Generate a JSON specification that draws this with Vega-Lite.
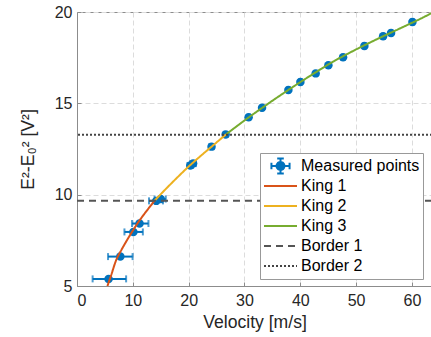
{
  "$schema": "https://vega.github.io/schema/vega-lite/v6.json",
  "width": 355,
  "height": 274,
  "autosize": {"type": "none"},
  "padding": {"left": 77, "top": 12, "right": 0, "bottom": 51},
  "background": "white",
  "config": {
    "font": "Liberation Sans",
    "view": {"stroke": "#8c8c8c", "strokeWidth": 1},
    "axis": {
      "grid": true,
      "gridColor": "#dcdcdc",
      "gridDash": [5, 3],
      "domainColor": "#8c8c8c",
      "tickColor": "#8c8c8c",
      "tickSize": -4,
      "labelFontSize": 16,
      "labelColor": "#262626",
      "titleFontSize": 17.6,
      "titleFontWeight": "normal",
      "titleColor": "#262626",
      "labelFont": "Liberation Sans",
      "titleFont": "Liberation Sans"
    },
    "legend": {
      "orient": "none",
      "legendX": 183,
      "legendY": 141,
      "padding": 3,
      "strokeColor": "#999999",
      "fillColor": "white",
      "symbolType": "stroke",
      "symbolSize": 1089,
      "symbolStrokeWidth": 2,
      "labelFontSize": 16,
      "labelColor": "#000000",
      "labelFont": "Liberation Sans",
      "labelOffset": 3,
      "clipHeight": 20,
      "rowPadding": 0,
      "labelLimit": 300
    }
  },
  "datasets": {
    "points": [
      {"series": "Measured points", "v": 5.66, "e": 5.39, "vlo": 2.8, "vhi": 8.8},
      {"series": "Measured points", "v": 7.76, "e": 6.61, "vlo": 5.56, "vhi": 9.96},
      {"series": "Measured points", "v": 10.1, "e": 7.96, "vlo": 8.5, "vhi": 11.8},
      {"series": "Measured points", "v": 11.2, "e": 8.42, "vlo": 9.86, "vhi": 12.8},
      {"series": "Measured points", "v": 14.2, "e": 9.66, "vlo": 12.9, "vhi": 15.4},
      {"series": "Measured points", "v": 15.0, "e": 9.76, "vlo": 13.9, "vhi": 15.9},
      {"series": "Measured points", "v": 20.3, "e": 11.6, "vlo": 19.8, "vhi": 20.8},
      {"series": "Measured points", "v": 20.8, "e": 11.7, "vlo": 20.3, "vhi": 21.3},
      {"series": "Measured points", "v": 24.1, "e": 12.63, "vlo": 23.7, "vhi": 24.5},
      {"series": "Measured points", "v": 26.63, "e": 13.3, "vlo": 26.3, "vhi": 27.0},
      {"series": "Measured points", "v": 30.75, "e": 14.24, "vlo": 30.5, "vhi": 31.0},
      {"series": "Measured points", "v": 33.15, "e": 14.76, "vlo": 32.9, "vhi": 33.4},
      {"series": "Measured points", "v": 37.87, "e": 15.73, "vlo": 37.6, "vhi": 38.1},
      {"series": "Measured points", "v": 40.02, "e": 16.17, "vlo": 39.8, "vhi": 40.3},
      {"series": "Measured points", "v": 42.76, "e": 16.64, "vlo": 42.5, "vhi": 43.0},
      {"series": "Measured points", "v": 45.04, "e": 17.08, "vlo": 44.8, "vhi": 45.3},
      {"series": "Measured points", "v": 47.67, "e": 17.52, "vlo": 47.4, "vhi": 47.9},
      {"series": "Measured points", "v": 51.49, "e": 18.14, "vlo": 51.2, "vhi": 51.8},
      {"series": "Measured points", "v": 54.84, "e": 18.67, "vlo": 54.6, "vhi": 55.1},
      {"series": "Measured points", "v": 56.27, "e": 18.85, "vlo": 56.0, "vhi": 56.5},
      {"series": "Measured points", "v": 60.09, "e": 19.45, "vlo": 59.8, "vhi": 60.4}
    ],
    "curves": [
      {"series": "King 1", "v": 5.45, "e": 5.0},
      {"series": "King 1", "v": 6.0, "e": 5.48},
      {"series": "King 1", "v": 7.0, "e": 6.4},
      {"series": "King 1", "v": 8.0, "e": 7.0},
      {"series": "King 1", "v": 9.0, "e": 7.53},
      {"series": "King 1", "v": 10.0, "e": 8.03},
      {"series": "King 1", "v": 11.0, "e": 8.5},
      {"series": "King 1", "v": 12.0, "e": 8.92},
      {"series": "King 1", "v": 13.0, "e": 9.32},
      {"series": "King 1", "v": 13.9, "e": 9.67},
      {"series": "King 2", "v": 13.9, "e": 9.67},
      {"series": "King 2", "v": 16.0, "e": 10.34},
      {"series": "King 2", "v": 18.0, "e": 10.95},
      {"series": "King 2", "v": 20.0, "e": 11.54},
      {"series": "King 2", "v": 22.0, "e": 12.08},
      {"series": "King 2", "v": 24.0, "e": 12.6},
      {"series": "King 2", "v": 26.7, "e": 13.3},
      {"series": "King 3", "v": 26.7, "e": 13.3},
      {"series": "King 3", "v": 30.0, "e": 14.06},
      {"series": "King 3", "v": 34.0, "e": 14.93},
      {"series": "King 3", "v": 38.0, "e": 15.76},
      {"series": "King 3", "v": 42.0, "e": 16.55},
      {"series": "King 3", "v": 46.0, "e": 17.3},
      {"series": "King 3", "v": 50.0, "e": 17.95},
      {"series": "King 3", "v": 54.0, "e": 18.55},
      {"series": "King 3", "v": 58.0, "e": 19.12},
      {"series": "King 3", "v": 62.0, "e": 19.7},
      {"series": "King 3", "v": 63.6, "e": 19.95}
    ],
    "borders": [
      {"series": "Border 1", "e": 9.67},
      {"series": "Border 2", "e": 13.28}
    ]
  },
  "layer": [
    {
      "data": {"name": "points"},
      "mark": {"type": "errorbar", "ticks": {"size": 7, "thickness": 2}, "thickness": 2, "color": "#0072BD"},
      "encoding": {
        "x": {"field": "vlo", "type": "quantitative", "scale": {"domain": [0, 63.6], "nice": false, "zero": false},
              "axis": {"values": [0, 10, 20, 30, 40, 50, 60], "title": "Velocity [m/s]", "labelPadding": 10, "titlePadding": 5}},
        "x2": {"field": "vhi"},
        "y": {"field": "e", "type": "quantitative", "scale": {"domain": [5, 20], "nice": false, "zero": false},
              "axis": {"values": [5, 10, 15, 20], "title": "E²-E₀² [V²]", "labelPadding": 9, "titlePadding": 17}}
      }
    },
    {
      "data": {"name": "points"},
      "mark": {"type": "point", "filled": true, "size": 72, "opacity": 1},
      "encoding": {
        "x": {"field": "v", "type": "quantitative"},
        "y": {"field": "e", "type": "quantitative"},
        "color": {
          "field": "series", "type": "nominal",
          "scale": {
            "domain": ["Measured points", "King 1", "King 2", "King 3", "Border 1", "Border 2"],
            "range": ["#0072BD", "#D95319", "#EDB120", "#77AC30", "#555555", "#444444"]
          },
          "legend": {
            "title": null,
            "encode": {
              "symbols": {
                "update": {
                  "shape": {"signal": "datum.value === 'Measured points' ? 'M-0.55,0H0.55M-0.55,-0.2V0.2M0.55,-0.2V0.2M0,-0.45V0.45M-0.2,-0.45H0.2M-0.2,0.45H0.2M0.24,0A0.24,0.24,0,1,1,-0.24,0A0.24,0.24,0,1,1,0.24,0Z' : 'stroke'"},
                  "fill": {"signal": "datum.value === 'Measured points' ? '#0072BD' : 'transparent'"}
                }
              }
            }
          }
        }
      }
    },
    {
      "data": {"name": "curves"},
      "mark": {"type": "line", "strokeWidth": 2, "interpolate": "monotone"},
      "encoding": {
        "x": {"field": "v", "type": "quantitative"},
        "y": {"field": "e", "type": "quantitative"},
        "color": {"field": "series", "type": "nominal"},
        "strokeDash": {
          "field": "series", "type": "nominal",
          "scale": {
            "domain": ["Measured points", "King 1", "King 2", "King 3", "Border 1", "Border 2"],
            "range": [[1, 0], [1, 0], [1, 0], [1, 0], [7, 5], [2, 2]]
          },
          "legend": {
            "title": null,
            "encode": {
              "symbols": {
                "update": {
                  "shape": {"signal": "datum.value === 'Measured points' ? 'M-0.55,0H0.55M-0.55,-0.2V0.2M0.55,-0.2V0.2M0,-0.45V0.45M-0.2,-0.45H0.2M-0.2,0.45H0.2M0.24,0A0.24,0.24,0,1,1,-0.24,0A0.24,0.24,0,1,1,0.24,0Z' : 'stroke'"},
                  "fill": {"signal": "datum.value === 'Measured points' ? '#0072BD' : 'transparent'"}
                }
              }
            }
          }
        }
      }
    },
    {
      "data": {"name": "borders"},
      "mark": {"type": "rule", "strokeWidth": 2},
      "encoding": {
        "y": {"field": "e", "type": "quantitative"},
        "color": {"field": "series", "type": "nominal"},
        "strokeDash": {"field": "series", "type": "nominal"}
      }
    }
  ]
}
